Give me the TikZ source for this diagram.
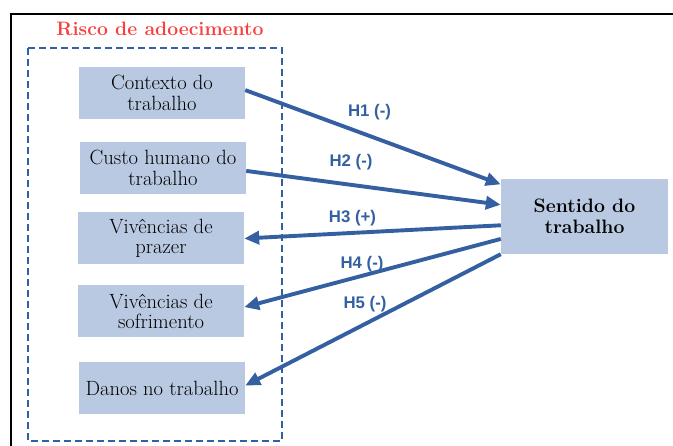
\documentclass[tikz,border=0pt]{standalone}
\usepackage{fontspec}
\newfontfamily\labelfont{Liberation Sans}
\usetikzlibrary{arrows.meta}
\definecolor{arrowblue}{RGB}{52,96,162}
\definecolor{boxfill}{RGB}{184,201,225}
\definecolor{titlered}{RGB}{250,62,62}
\tikzset{
  riskbox/.style={fill=boxfill, minimum width=166pt, minimum height=52pt, inner sep=0pt,
    align=center, font=\fontsize{20.6}{20.5}\selectfont},
  hyparrow/.style={draw=arrowblue, line width=3.9pt, -{Triangle[length=15pt,width=13pt]}},
  hyplabel/.style={text=arrowblue, inner sep=0pt, font=\labelfont\bfseries\fontsize{16.8}{18}\selectfont}
}
\begin{document}
\begin{tikzpicture}[x=1pt,y=1pt,yscale=-1,xscale=1]
\useasboundingbox (0,0) rectangle (673,446);

%Frame
\draw [line width=2pt] (11,446) -- (11,14) -- (673,14) ;
%Dashed group
\draw [color=arrowblue, line width=1.3pt, dash pattern={on 7pt off 4pt}] (28,48) rectangle (282,441) ;

% Text Node
\node [anchor=base, text=titlered, font=\bfseries\fontsize{19.4}{20}\selectfont] (title) at (160,36) {Risco de adoecimento};

%Boxes
\node [riskbox] (ctx) at (162,93) {Contexto do\\trabalho};
\node [riskbox] (custo) at (163,168) {Custo humano do\\trabalho};
\node [riskbox] (prazer) at (161,238.5) {Vivências de\\prazer};
\node [riskbox] (sofr) at (161,311.5) {Vivências de\\sofrimento};
\node [riskbox] (danos) at (162,388.5) {Danos no trabalho};
\node [riskbox, minimum width=167pt, minimum height=75pt, font=\bfseries\fontsize{19.4}{21}\selectfont] (sentido) at (584.5,216.5) {Sentido do\\trabalho};

%Arrows
\draw [hyparrow] (ctx.2) -- (sentido.159) ;
\draw [hyparrow] (custo.358) -- (sentido.172) ;
\draw [hyparrow] (sentido.186.5) -- (prazer.east) ;
\draw [hyparrow] (sentido.195) -- (sofr.3) ;
\draw [hyparrow] (sentido.south west) -- (danos.2.4) ;

% Text Node
\node [hyplabel] (lh1) at (369.5,112) {H1 (-)};
\node [hyplabel] (lh2) at (351,162) {H2 (-)};
\node [hyplabel] (lh3) at (352.5,218) {H3 (+)};
\node [hyplabel] (lh4) at (362,264.5) {H4 (-)};
\node [hyplabel] (lh5) at (365,304) {H5 (-)};

\end{tikzpicture}
\end{document}
